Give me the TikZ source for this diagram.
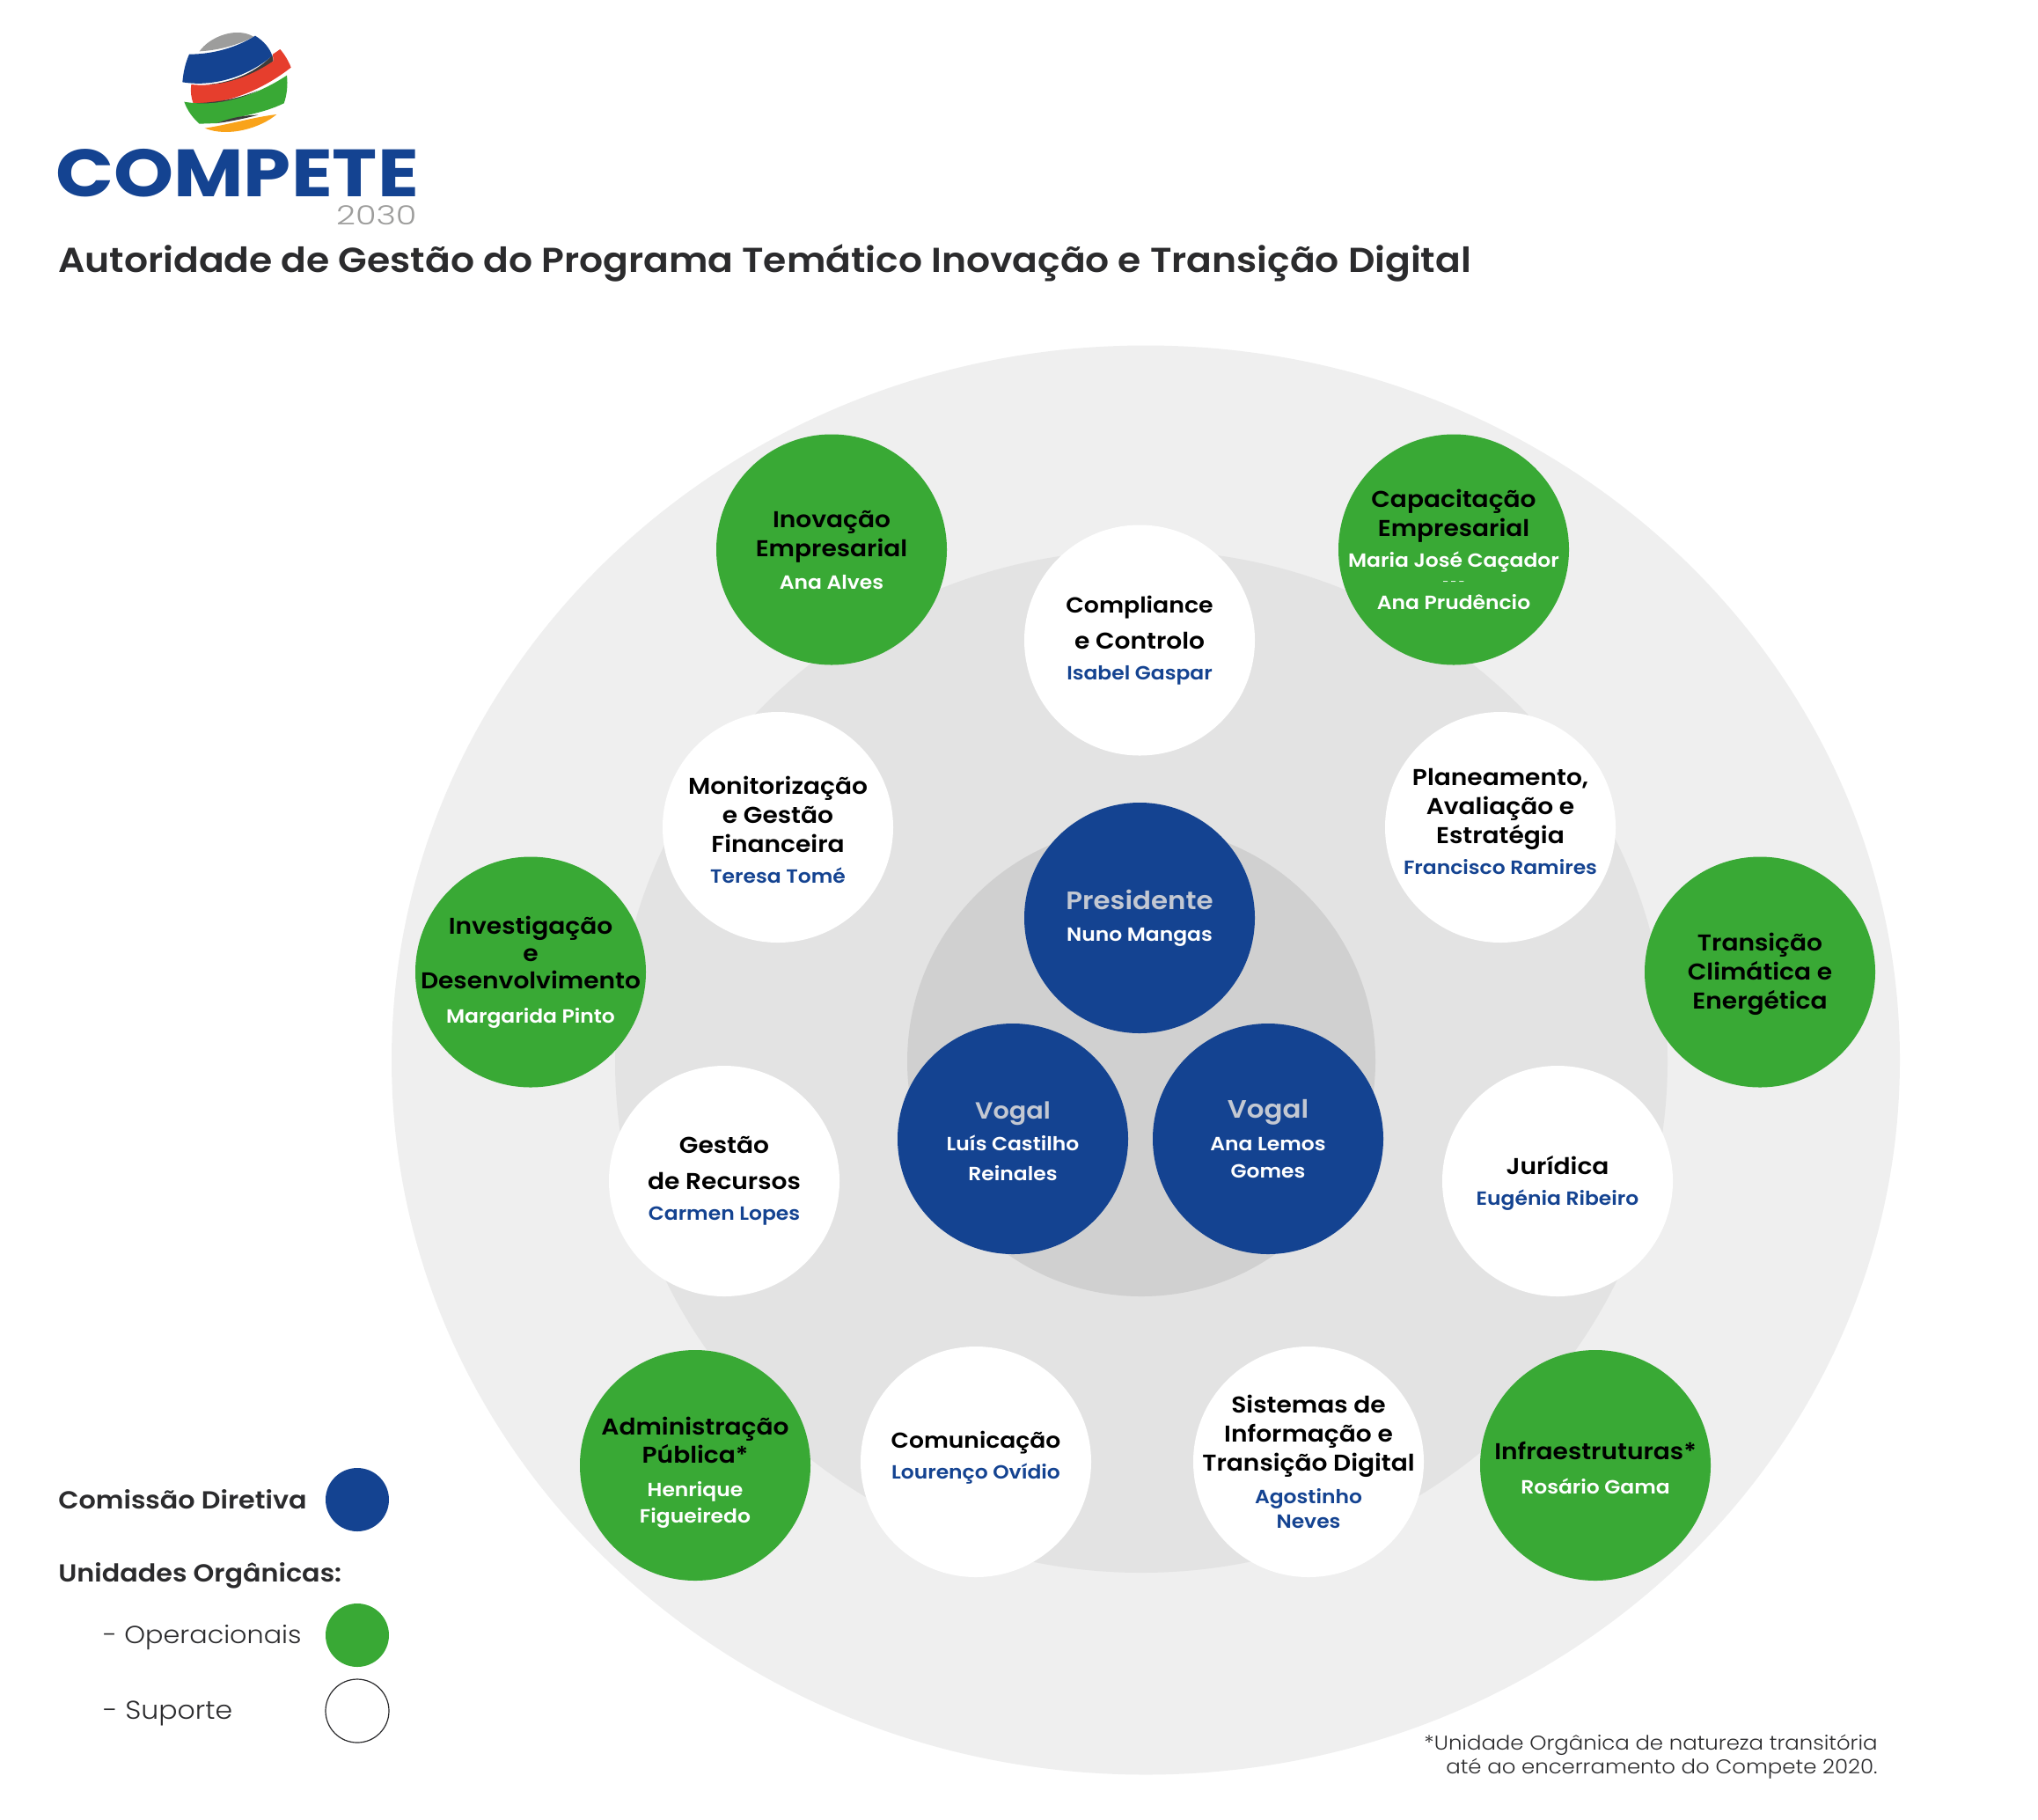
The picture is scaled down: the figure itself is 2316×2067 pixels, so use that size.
\documentclass[tikz,border=0pt]{standalone}
\usepackage{fontspec}
\setmainfont{Poppins}[BoldFont=Poppins SemiBold, FakeStretch=1.08]
\newfontfamily\lightfont{Poppins Light}[FakeStretch=1.08]
\newfontfamily\brandfont{Poppins Bold}[FakeStretch=1.08]
\usetikzlibrary{positioning}
\definecolor{compBlue}{HTML}{144391}
\definecolor{compGreen}{HTML}{39A935}
\definecolor{compRed}{HTML}{E63E2D}
\definecolor{compOrange}{HTML}{F9A31A}
\definecolor{compDark}{HTML}{3C3C3B}
\definecolor{compGrey}{HTML}{9D9D9C}
\definecolor{compInk}{HTML}{2B2B2D}
\definecolor{compTitle}{HTML}{C3C8D2}
\newcommand{\whoW}[1]{{\fontsize{10.85}{13}\selectfont\color{white}#1}}
\newcommand{\whoB}[1]{{\fontsize{10.85}{13}\selectfont\color{compBlue}#1}}
\newcommand{\headW}[1]{{\fontsize{14.3}{16}\selectfont\color{compTitle}#1}}

\begin{document}
\begin{tikzpicture}[
    x=0.5pt, y=-0.5pt,
    disc/.style={circle, draw=none, minimum size=131pt, inner sep=-40pt, align=center,
                 font=\fontsize{13}{16.5}\selectfont\bfseries},
    board/.style={disc, fill=compBlue},
    oper/.style={disc, fill=compGreen, text=black},
    supp/.style={disc, fill=white, text=black},
    unittext/.style={inner sep=0pt, align=center, text=black,
                 font=\fontsize{13}{16.5}\selectfont\bfseries},
    key/.style={circle, minimum size=36pt, inner sep=0pt},
    keytext/.style={anchor=west, inner sep=0pt, text=compInk, font=\fontsize{14}{16}\selectfont},
  ]
    \useasboundingbox (0,0) rectangle (2316,2067);

    % rings
    \fill[black!6.3] (1302,1204.5) ellipse [x radius=857, y radius=812];
    \fill[black!11] (1297,1206) ellipse [x radius=598, y radius=581];
    \fill[black!18.5] (1297,1206) ellipse [x radius=266, y radius=267];

    % logo
    \begin{scope}[shift={(40,20)}, scale=1/3]
      \fill[compGrey] (560,115) .. controls (595,65) and (685,30) .. (745,65)
        .. controls (690,95) and (620,112) .. (560,115) -- cycle;
      \fill[compDark] (590,228) .. controls (680,220) and (760,180) .. (808,128) -- (812,148)
        .. controls (760,190) and (680,228) .. (590,228) -- cycle;
      \fill[compBlue] (525,125) .. controls (610,125) and (690,100) .. (750,62)
        .. controls (780,80) and (800,105) .. (808,130)
        .. controls (740,190) and (620,240) .. (502,220)
        .. controls (505,185) and (512,155) .. (525,125) -- cycle;
      \fill[compRed] (532,228) .. controls (650,240) and (750,190) .. (812,148) -- (810,125) -- (835,108)
        .. controls (850,125) and (865,150) .. (872,170)
        .. controls (770,250) and (650,295) .. (540,295)
        .. controls (532,275) and (528,250) .. (532,228) -- cycle;
      \fill[compDark] (540,292) .. controls (620,290) and (700,275) .. (760,248)
        .. controls (690,285) and (620,300) .. (545,305) -- cycle;
      \fill[compGreen] (508,287) .. controls (640,310) and (770,255) .. (858,197)
        .. controls (862,230) and (858,265) .. (848,292)
        .. controls (770,330) and (690,335) .. (620,360) -- (560,362)
        .. controls (535,340) and (518,315) .. (508,287) -- cycle;
      \fill[compDark] (620,360) .. controls (670,340) and (720,332) .. (760,332)
        .. controls (710,345) and (660,355) .. (620,360) -- cycle;
      \fill[compOrange] (578,377) .. controls (660,365) and (740,340) .. (823,330)
        .. controls (770,375) and (660,410) .. (578,377) -- cycle;
    \end{scope}
    \node[anchor=west, inner sep=0pt, text=compBlue, xscale=1.055,
          font=\brandfont\fontsize{38}{40}\selectfont] (brand) at (63,197) {COMPETE};
    \node[anchor=east, inner sep=0pt, text=compGrey, xscale=1.18,
          font=\lightfont\fontsize{15}{16}\selectfont] (year) at (474,244.5) {2030};
    \node[anchor=west, inner sep=0pt, text=compInk,
          font=\fontsize{19.65}{22}\selectfont\bfseries] (heading) at (66,299)
          {Autoridade de Gestão do Programa Temático Inovação e Transição Digital};

    % direction
    \node[board] (pres) at (1295,1043) {\headW{Presidente}\\[1.5pt]\whoW{Nuno Mangas}};
    \node[board] (vogalA) at (1151,1294) {};
    \node[unittext, text=white] (vogalAText) at ([yshift=-1.5pt]vogalA) {{\fontsize{13.3}{16}\selectfont\color{compTitle}Vogal}\\[1.5pt]\whoW{Luís Castilho}\\[0.5pt]\whoW{Reinales}};
    \node[board] (vogalB) at (1441,1294) {\headW{Vogal}\\[2pt]\whoW{Ana Lemos}\\[-1pt]\whoW{Gomes}};

    % operational units
    \node[oper] (inov) at (945,624.5) {Inovação\\Empresarial\\[2pt]\whoW{Ana Alves}};
    \node[oper] (capac) at (1652,624.5) {Capacitação\\Empresarial\\[1pt]\whoW{Maria José Caçador}\\[-6pt]\whoW{\mdseries\fontsize{6}{7}\selectfont -\,-\,-}\\[-3pt]\whoW{Ana Prudêncio}};
    \node[oper] (invest) at (603,1104.5) {Investigação\\[-1pt]e\\[-1pt]Desenvolvimento\\[3pt]\whoW{Margarida Pinto}};
    \node[oper] (clima) at (2000,1104.5) {};
    \node[unittext] (climaText) at ([yshift=-1pt]clima) {Transição\\Climática e\\Energética};
    \node[oper] (admin) at (790,1665) {};
    \node[unittext] (adminText) at ([yshift=-4.2pt]admin) {Administração\\[-0.5pt]Pública*\\[2.5pt]\whoW{Henrique}\\[-1.5pt]\whoW{Figueiredo}};
    \node[oper] (infra) at (1813,1665) {};
    \node[unittext] (infraText) at ([yshift=-1.5pt]infra) {Infraestruturas*\\[3pt]\whoW{Rosário Gama}};

    % support units
    \node[supp] (compl) at (1295,727.5) {{\fontsize{12.4}{16.5}\selectfont Compliance}\\[4pt]e Controlo\\[1pt]\whoB{Isabel Gaspar}};
    \node[supp] (monit) at (884,940) {};
    \node[unittext] (monitText) at ([yshift=-1.5pt]monit) {Monitorização\\e Gestão\\Financeira\\[1pt]\whoB{Teresa Tomé}};
    \node[supp] (plan) at (1705,940) {};
    \node[unittext] (planText) at ([yshift=3.3pt]plan) {Planeamento,\\Avaliação e\\Estratégia\\[1pt]\whoB{Francisco Ramires}};
    \node[supp] (recur) at (823,1342) {Gestão\\[4pt]de Recursos\\[1pt]\whoB{Carmen Lopes}};
    \node[supp] (jurid) at (1770,1342) {};
    \node[unittext] (juridText) at ([yshift=-1pt]jurid) {Jurídica\\[1pt]\whoB{Eugénia Ribeiro}};
    \node[supp] (comun) at (1109,1661) {};
    \node[unittext, font=\fontsize{12.3}{16.5}\selectfont\bfseries] (comunText) at ([yshift=2.6pt]comun) {Comunicação\\[1pt]\whoB{Lourenço Ovídio}};
    \node[supp] (siste) at (1487,1661) {Sistemas de\\Informação e\\Transição Digital\\[2pt]\whoB{Agostinho}\\[-2.5pt]\whoB{Neves}};

    % legend
    \node[key, fill=compBlue] (keyBoard) at (406,1704) {};
    \node[key, fill=compGreen] (keyOper) at (406,1858) {};
    \node[key, draw=compInk, line width=0.6pt, fill=white] (keySupp) at (406,1944) {};
    \node[keytext, font=\fontsize{14}{16}\selectfont\bfseries] (txtBoard) at (66,1704) {Comissão Diretiva};
    \node[keytext, font=\fontsize{14}{16}\selectfont\bfseries] (txtUnits) at (66,1790) {Unidades Orgânicas:};
    \node[keytext, font=\lightfont\fontsize{14}{16}\selectfont] (txtOper) at (117,1861) {- Operacionais};
    \node[keytext, font=\lightfont\fontsize{14.6}{16}\selectfont] (txtSupp) at (117,1947) {- Suporte};

    % note
    \node[anchor=north east, inner sep=0pt, align=right, text=compInk,
          font=\lightfont\fontsize{11.3}{13.5}\selectfont] (note) at (2134,1971)
          {*Unidade Orgânica de natureza transitória\\até ao encerramento do Compete 2020.};
  \end{tikzpicture}
\end{document}
